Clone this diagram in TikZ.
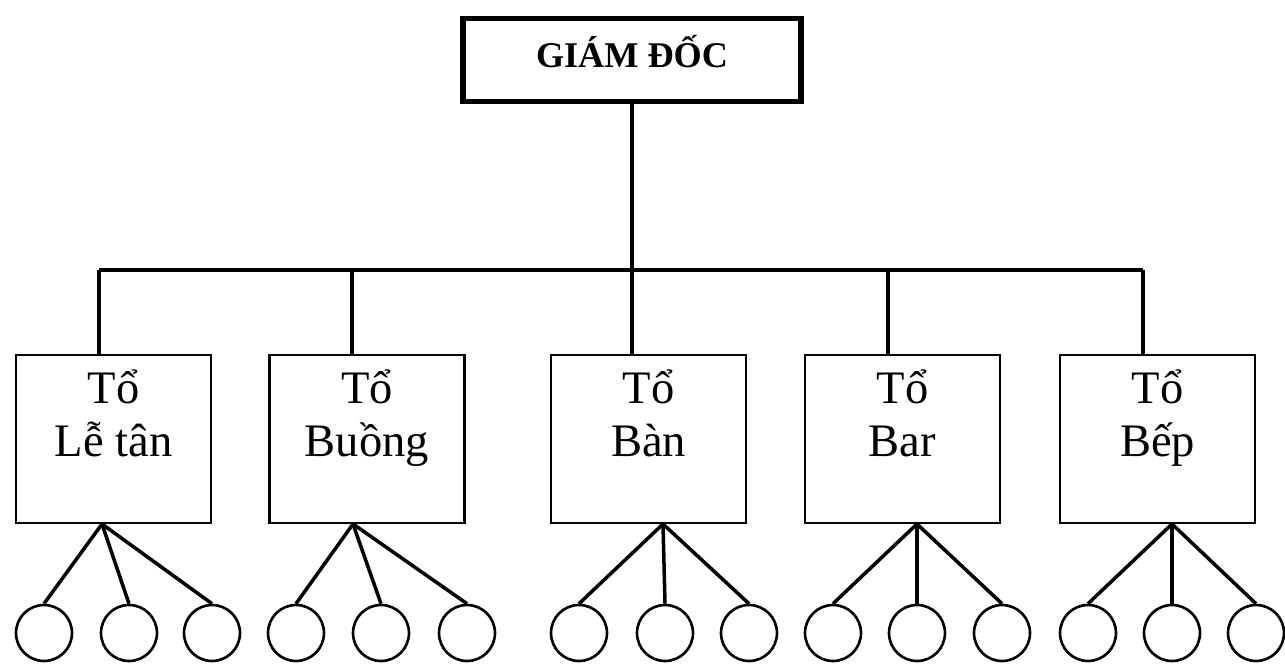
\documentclass[tikz,border=0pt]{standalone}
\usepackage{fontspec}
\setmainfont{Liberation Serif}
\usetikzlibrary{positioning}

\begin{document}
\begin{tikzpicture}[x=0.02cm,y=-0.02cm,
    head/.style={draw=black,line width=3.4pt,minimum width=6.76cm,minimum height=1.66cm,
      inner sep=0pt,text depth=10pt,font=\fontsize{20.6}{24}\selectfont\bfseries},
    unit/.style={draw=black,line width=1.4pt,minimum width=3.9cm,minimum height=3.36cm},
    unitname/.style={align=center,inner sep=0pt,font=\fontsize{26.5}{30}\selectfont},
    member/.style={circle,draw=black,line width=1.5pt,minimum size=1.12cm,inner sep=0pt},
    link/.style={draw=black,line width=2pt}
  ]
  \useasboundingbox (0,0) rectangle (1285,663);

  \node[head] (gd) at (632,60) {GIÁM ĐỐC};

  % the five teams
  \foreach \i/\x/\t/\a/\name in {1/113.5/99/102/Lễ tân,2/367/352/353/Buồng,
                                  3/648.5/632/663/Bàn,4/902.5/888/917/Bar,
                                  5/1157.5/1143/1172/Bếp} {
    \node[unit] (u\i) at (\x,439) {};
    \node[unitname,below=9pt of u\i.north] (n\i) {Tổ\\\name};
    \coordinate (bus\i) at (\t,270);
    \coordinate (apex\i) at (\a,524);
    \draw[link] (bus\i) -- (bus\i |- u\i.north);
  }

  \draw[link] (bus1) -- (bus5);
  \draw[link] (gd.south) -- (bus3);

  % members of each team
  \foreach \i/\c/\x in {1/1/44,1/2/129,1/3/212,
                        2/1/296,2/2/381,2/3/467,
                        3/1/579,3/2/665,3/3/749,
                        4/1/833,4/2/917,4/3/1002,
                        5/1/1088,5/2/1172,5/3/1256} {
    \node[member] (m\i\c) at (\x,633) {};
    \draw[link] (apex\i) -- (m\i\c.north);
  }
\end{tikzpicture}
\end{document}
